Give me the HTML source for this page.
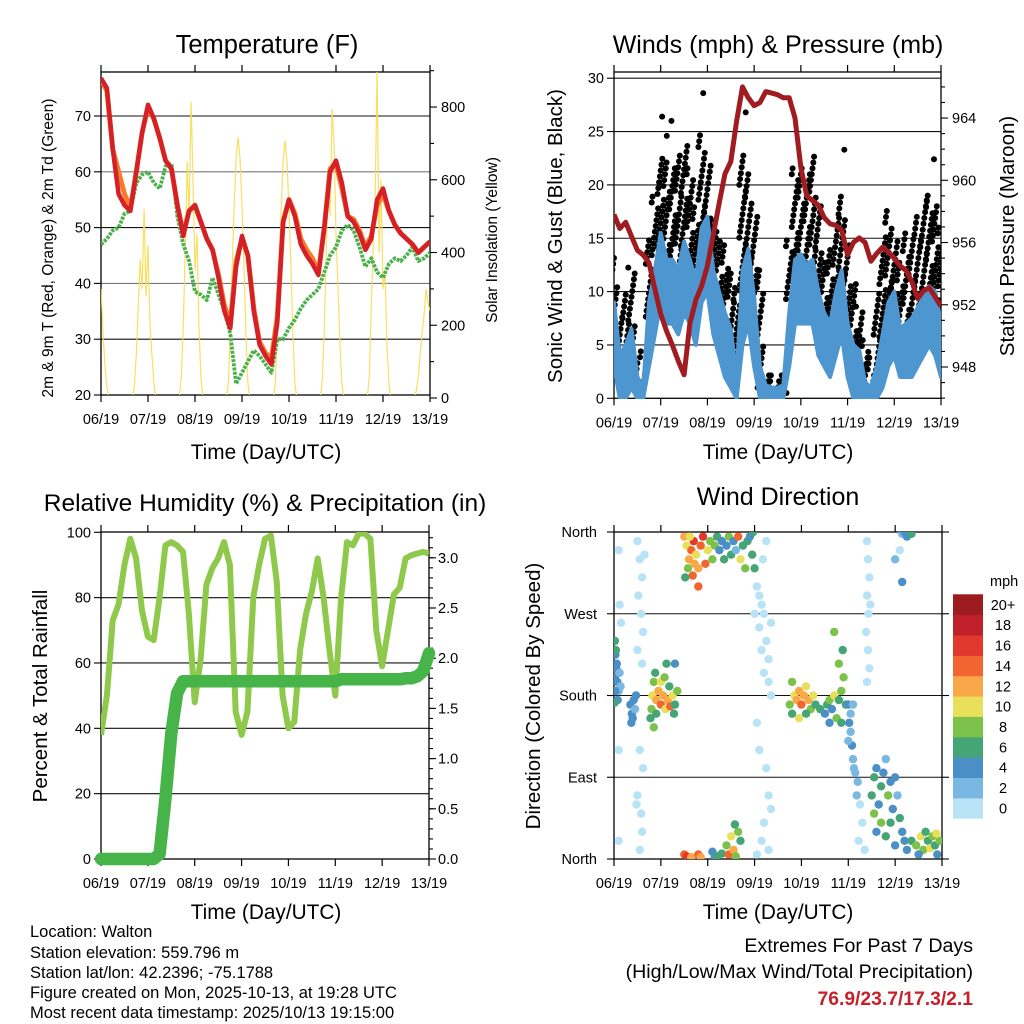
<!DOCTYPE html>
<html><head><meta charset="utf-8"><title>Walton station meteogram</title>
<style>
html,body{margin:0;padding:0;background:#fff;}
svg{display:block;font-family:"Liberation Sans",sans-serif;}
</style></head>
<body>
<svg id="fig" width="1024" height="1024" viewBox="0 0 1024 1024" xmlns="http://www.w3.org/2000/svg">
<defs>
<clipPath id="c1"><rect x="101" y="72" width="329" height="323"/></clipPath>
<clipPath id="c2"><rect x="614" y="72" width="327" height="327"/></clipPath>
<clipPath id="c3"><rect x="101" y="532" width="328" height="327"/></clipPath>
<clipPath id="c4"><rect x="614" y="532" width="328" height="327"/></clipPath>
</defs>
<rect width="1024" height="1024" fill="#fff"/>

<!-- titles -->
<text x="267" y="53" font-size="25.5" text-anchor="middle">Temperature (F)</text>
<text x="778" y="53" font-size="25" text-anchor="middle">Winds (mph) &amp; Pressure (mb)</text>
<text x="265" y="511" font-size="24.5" text-anchor="middle">Relative Humidity (%) &amp; Precipitation (in)</text>
<text x="778" y="505" font-size="25" text-anchor="middle">Wind Direction</text>

<!-- axis titles -->
<text x="266" y="459" font-size="20.8" text-anchor="middle">Time (Day/UTC)</text>
<text x="778" y="459" font-size="20.8" text-anchor="middle">Time (Day/UTC)</text>
<text x="266" y="919" font-size="20.8" text-anchor="middle">Time (Day/UTC)</text>
<text x="778" y="919" font-size="20.8" text-anchor="middle">Time (Day/UTC)</text>
<text transform="translate(53,248) rotate(-90)" font-size="15.5" text-anchor="middle">2m &amp; 9m T (Red, Orange) &amp; 2m Td (Green)</text>
<text transform="translate(497,240) rotate(-90)" font-size="15.5" text-anchor="middle">Solar Insolation (Yellow)</text>
<text transform="translate(562,236) rotate(-90)" font-size="20.5" text-anchor="middle">Sonic Wind &amp; Gust (Blue, Black)</text>
<text transform="translate(1014,236) rotate(-90)" font-size="20.5" text-anchor="middle">Station Pressure (Maroon)</text>
<text transform="translate(47,696) rotate(-90)" font-size="20.5" text-anchor="middle">Percent &amp; Total Rainfall</text>
<text transform="translate(540,696) rotate(-90)" font-size="20.5" text-anchor="middle">Direction (Colored By Speed)</text>

<g id="marks"></g>

<!-- colorbar -->
<g id="colorbar"></g>
<text x="990" y="586" font-size="14.5">mph</text>

<!-- info text -->
<g font-size="16.5">
<text x="30" y="937">Location: Walton</text>
<text x="30" y="958">Station elevation: 559.796 m</text>
<text x="30" y="978">Station lat/lon: 42.2396; -75.1788</text>
<text x="30" y="998">Figure created on Mon, 2025-10-13, at 19:28 UTC</text>
<text x="30" y="1018">Most recent data timestamp: 2025/10/13 19:15:00</text>
</g>
<g font-size="19.6" text-anchor="end">
<text x="973" y="952">Extremes For Past 7 Days</text>
<text x="973" y="978">(High/Low/Max Wind/Total Precipitation)</text>
<text x="973" y="1005" font-size="19.3" font-weight="bold" fill="#c8202a">76.9/23.7/17.3/2.1</text>
</g>
</svg>
<script>
// ---- shared ----
const dayLabels = ["06/19","07/19","08/19","09/19","10/19","11/19","12/19","13/19"];
// ---- temperature panel (3-hourly, 57 points) ----
const temp2m = [76.8,75,64,56,54,53,60,67,72,69.5,66,62,60.5,54,48.5,53,54,51,48,46,41,35,32,43,48.5,45,35,29,27,25.5,33,51,55,52,47,45,43.5,41.5,50,60,62,58,52,51,49,46,48,55,57,53,50.5,49,48,47,45.5,46.5,47.5];
const temp9m = [76.5,74.5,64,60,56,53.5,60,67,71.5,69.5,66,62,60.5,54,49,53,54,51,48,46,41.5,36,33,44,48,45,35.5,29.5,27.5,26.5,34,51,55,52.5,48,46,44.5,42,50,60.5,61.5,57,52,51.5,49.5,46.5,48.5,54,56,53,50.5,49,48,47,45.5,46.5,47.5];
const dewpoint = [47,48,49.5,50,52.5,53,58,59.5,60,58,57,61,61.5,52,47,44,38.5,38,37,41,38,35,31,22,24,26,28,27,25.5,24,30,30,32,33.5,35.5,37,38,39,42,45,46.5,49.5,50.5,49.5,46.5,43,44.5,42,41,43.5,44.5,44,45,46.5,44,44.5,45.5];
// hourly solar insolation (169 points)
const solar = [300,180,90,30,0,0,0,0,0,0,0,0,0,0,0,0,
 0,30,120,250,380,300,520,280,420,200,120,40,0,0,0,0,0,0,0,0,0,0,0,0,
 0,60,200,400,650,500,814,600,350,450,200,60,0,0,0,0,0,0,0,0,0,0,0,0,
 0,40,180,360,530,660,718,660,530,360,180,40,0,0,0,0,0,0,0,0,0,0,0,0,
 0,40,175,355,520,650,708,650,520,355,175,40,0,0,0,0,0,0,0,0,0,0,0,0,
 0,50,190,400,600,500,795,700,450,300,150,40,0,0,0,0,0,0,0,0,0,0,0,0,
 0,60,250,420,560,900,400,600,300,350,150,40,0,0,0,0,0,0,0,0,0,0,0,0,
 0,20,60,120,180,230,300,263,240];
const tempTicks = [20,30,40,50,60,70];
const solarTicks = [0,200,400,600,800];
// ---- wind panel (3-hourly) ----
const windHi = [9,4,5,6.5,2,1,9,12,15.5,13,13,12,14.7,13,11,16,17,12,10,8,6.5,2,12,14,9.5,3,1.2,1,1,1.2,8,13,13.5,12.5,13,10,8,7,10,12,7,5,4.5,1.5,1,3,6,9,10,6.5,7,7.5,8.5,9.5,10.5,10,7];
const windLo = [3,0,0,1,0,0,3,6,9,7,7,6,8,7,5,9,10,6,4,2,1,0,5,7,3,0,0,0,0,0,3,7,7,7,7,4,3,2,4,6,2,0,0,0,0,0,1,3,4,2,2,2,3,4,5,4,2];
const gustHi = [13.5,8,10,12.5,3.5,4.5,15,19,22.8,22.5,21.9,23,24,22,18,25,22,17,15,14.4,12,10.7,22.8,21,17,12,2.5,2.2,2.1,2.3,15,22,22,21,22.8,18,13,14,17,19.4,14.5,11,8.7,5.5,4,10,15.6,18,15,13,15.6,15,17,19,19.4,18,16.5];
const gustLo = [6,1,2,4,0,0,6,9,12,10,10,9,11,10,8,12,13,9,7,5,4,1,9,10,6,1,0.5,0.5,0.5,0.5,6,10,10,10,10,7,5,4,7,9,5,3,2,0.5,0.5,1,3,6,7,5,5,5,6,7,8,7,5];
const gustOutDay = [1.03,1.23,1.13,1.91,2.82,4.93,6.85];
const gustOutVal = [26.4,26,24.6,28.6,26.8,23.3,22.4];
const pressure = [957.8,956.9,957.3,956.4,955.5,955.2,954.7,953,951.4,950.3,949.4,948.4,947.5,950.8,952.3,953.2,954.5,956.5,958.5,960.4,961.2,963.8,966,965.3,964.8,965,965.7,965.6,965.5,965.3,965.3,964,960.8,959,958.7,958.4,957.6,957.2,957.1,956.8,955.2,956,956.3,956,954.8,955.3,955.7,955.4,955,954.5,954.2,953.5,952.4,952.9,953.1,952.5,951.9];
const windTicks = [0,5,10,15,20,25,30];
const pressTicks = [948,952,956,960,964];
// ---- humidity panel (3-hourly) ----
const rh = [38,50,73,78,90,98,92,76,68,67,80,96,97,96,94,75,48,61,84,89,92,97,90,45,38,45,80,90,98,99,85,50,40,42,64,75,82,92,80,64,50,80,97,96,99.6,99.6,98,70,59,70,81,83,92,93,93.5,94,93.5];
const precip = [0,0,0,0,0,0,0,0,0,0,0.05,0.6,1.25,1.65,1.77,1.77,1.77,1.77,1.77,1.77,1.77,1.77,1.77,1.77,1.77,1.77,1.77,1.77,1.77,1.77,1.77,1.77,1.77,1.77,1.77,1.77,1.77,1.77,1.77,1.77,1.77,1.79,1.79,1.79,1.79,1.79,1.79,1.79,1.79,1.79,1.79,1.79,1.8,1.8,1.82,1.87,2.05];
const rhTicks = [0,20,40,60,80,100];
const precipTicks = ["0.0","0.5","1.0","1.5","2.0","2.5","3.0"];
// ---- wind direction panel ----
const dirDay = [0.02,0.03,0.05,0.02,0.07,0.1,0.04,0.06,0.12,0.08,0.01,0.14,0.03,
0.5,0.55,0.6,0.52,0.58,0.62,0.5,0.6,0.55,0.62,0.5,0.58,0.6,0.55,0.48,0.65,0.1,0.12,0.15,0.1,0.1,
0.35,0.38,0.42,0.45,0.4,0.47,0.37,
0.78,0.8,0.82,0.85,0.88,0.9,0.95,1.0,1.05,1.1,1.15,1.2,1.25,1.3,1.35,0.9,1.0,1.08,1.18,1.28,0.85,1.12,1.3,
1.5,1.55,1.6,1.65,1.7,1.75,1.8,1.85,1.9,1.95,2.0,2.05,2.1,1.58,1.68,1.72,1.62,2.15,2.2,2.25,2.3,2.35,2.4,2.45,2.5,2.55,2.6,2.65,2.7,2.75,2.8,2.85,2.9,2.95,3.0,2.97,1.52,1.8,
3.05,3.1,3.15,3.2,3.1,3.25,3.15,3.3,3.2,3.3,3.18,3.25,3.0,3.35,3.35,3.05,3.1,3.25,3.3,3.35,3.2,3.15,3.3,3.05,
1.5,1.55,1.65,1.8,1.85,2.1,2.15,2.3,2.4,2.45,2.5,2.55,2.6,2.7,2.65,2.58,2.2,
3.75,3.8,3.85,3.9,3.95,4.0,4.05,4.1,4.15,4.2,4.25,4.3,3.8,3.95,4.1,
4.4,4.5,4.55,4.6,4.65,4.7,4.75,4.8,4.85,4.9,4.88,4.85,4.8,4.95,4.6,4.7,
5.0,5.02,5.05,5.08,5.1,5.12,5.15,5.2,5.0,5.05,5.18,5.25,5.3,5.22,5.35,5.1,
5.4,5.42,5.45,5.4,5.43,5.38,5.42,5.45,5.4,5.47,
5.5,5.55,5.6,5.65,5.7,5.75,5.8,5.85,5.9,5.95,6.0,6.05,6.1,6.15,6.2,5.6,5.7,5.8,5.9,6.0,5.55,6.25,
6.35,6.45,6.55,6.6,6.7,6.75,6.8,6.85,6.9,6.95,6.5,6.65,6.88,
6.15,6.2,6.25,6.35,6.0,6.15,6.1];
const dirDeg = [240,225,210,200,195,185,230,215,205,175,172,190,185,
350,330,310,290,270,250,230,215,120,100,70,50,30,10,60,335,340,280,260,120,20,
170,160,175,165,155,180,150,
155,165,180,195,205,175,185,170,180,165,175,168,180,170,185,160,195,200,190,160,145,215,215,
355,345,330,340,350,335,320,345,355,325,340,350,330,320,312,325,355,345,355,340,350,330,345,355,335,350,340,355,330,345,320,350,355,335,320,360,310,300,
300,290,280,270,255,240,230,220,205,195,330,350,270,260,180,150,120,100,70,55,40,20,10,5,
5,3,2,5,2,8,2,6,15,5,25,10,3,20,30,38,3,
170,160,180,175,185,170,180,190,175,165,180,170,195,155,160,
165,160,170,175,165,180,155,175,185,200,230,150,215,170,150,250,
170,150,140,125,110,100,95,85,130,160,70,60,40,20,10,170,
350,330,310,290,270,250,230,210,195,280,
70,50,30,60,80,95,110,70,40,55,90,70,45,30,20,100,40,25,85,15,90,10,
20,15,25,10,20,12,25,15,5,20,5,30,28,
358,360,355,358,330,305,340];
const dirSpd = [6,5,4,5,4,3,6,4,3,4,6,2,5,
0,0,1,0,1,0,0,1,0,0,1,0,0,0,0,0,0,0,0,0,0,
4,4,4,3,5,4,4,
6,8,10,8,6,12,12,14,12,10,12,14,10,6,8,7,10,8,6,6,8,6,4,
12,10,12,14,16,10,12,14,16,14,10,8,8,8,14,12,10,8,6,4,4,6,4,8,6,4,2,14,10,6,8,6,4,6,6,6,6,14,
0,0,0,0,0,0,0,0,0,0,0,0,0,1,1,0,0,0,0,0,0,0,0,0,
14,16,12,14,12,4,4,6,8,14,10,12,8,6,8,6,6,
8,6,10,12,12,14,12,10,12,8,10,6,8,10,6,
6,4,6,8,4,10,8,6,8,8,6,6,8,6,4,8,
4,4,3,4,3,2,2,2,2,3,2,1,1,1,1,3,
0,0,0,1,0,0,0,1,0,1,
6,8,4,4,6,4,2,8,6,4,4,2,6,4,4,4,8,6,4,4,6,4,
6,8,10,8,6,10,8,6,4,8,4,6,10,
2,4,4,6,2,4,0];
const dirLabels = ["North","East","South","West","North"];
const cbLabels = ["0","2","4","6","8","10","12","14","16","18","20+"];
const cbColors = ["#b8e3f7","#7ab8e2","#4a8fc6","#45a574","#7cc24a","#e8e05a","#f9a848","#f26530","#e0382c","#c0202a","#9b1b1e"];

// ---- axis functions ----
const NS = "http://www.w3.org/2000/svg";
const marks = document.getElementById("marks");
function mk(tag, attrs, parent){ const e=document.createElementNS(NS,tag); for(const k in attrs) e.setAttribute(k,attrs[k]); (parent||marks).appendChild(e); return e; }
const P1={x0:101,x1:430,y0:72,y1:395}, P2={x0:614,x1:941,y0:72,y1:398.3}, P3={x0:101,x1:429,y0:532,y1:859}, P4={x0:614,x1:942,y0:532,y1:859};
const x1i = i => P1.x0 + i*(P1.x1-P1.x0)/56;
const x1h = h => P1.x0 + h*(P1.x1-P1.x0)/168;
const yT = v => 395 - (v-20)*5.58;
const yS = s => 398 - s*0.3637;
const x2i = i => P2.x0 + i*(P2.x1-P2.x0)/56;
const x2d = d => P2.x0 + d*(P2.x1-P2.x0)/7;
const yW = v => 398.3 - v*10.67;
const yP = p => 367 - (p-948)*15.56;
const x3i = i => P3.x0 + i*(P3.x1-P3.x0)/56;
const yRH = v => 859 - v*3.267;
const yPr = p => 859 - p*100.4;
const x4d = d => P4.x0 + d*(P4.x1-P4.x0)/7;
const yD = d => 859 - d*0.9083;
function spdColor(s){ let k=Math.floor(s/2); if(k>10)k=10; if(k<0)k=0; return cbColors[k]; }
function pathFrom(arr, fx, fy){ return arr.map((v,i)=>(i?"L":"M")+fx(i).toFixed(1)+","+fy(v).toFixed(1)).join(""); }

function frame(P, name){
  const g=mk("g",{});
  
  
  for(let d=0; d<8; d++){
    const x=P.x0+d*(P.x1-P.x0)/7;
    mk("line",{x1:x,x2:x,y1:P.y1,y2:P.y1+7,stroke:"#000","stroke-width":1.2},g);
    mk("line",{x1:x,x2:x,y1:P.y0,y2:P.y0-7,stroke:"#000","stroke-width":1.2},g);
    const t=mk("text",{x:x,y:P.y1+29,"font-size":14.5,"text-anchor":"middle"},g);
    
    
    t.textContent=dayLabels[d];
  }
  return g;
}
function hgrid(g, y, P, gray){ mk("line",{x1:P.x0,x2:P.x1,y1:y,y2:y,stroke:gray?"#777":"#111","stroke-width":1.1},g); }
function ylab(g, x, y, txt, anchor, name){
  const t=mk("text",{x:x,y:y+5,"font-size":14.5,"text-anchor":anchor},g);
  
  
  t.textContent=txt;
}
function tick(g,x,y,len){ mk("line",{x1:x,x2:x+len,y1:y,y2:y,stroke:"#000","stroke-width":1.1},g); }

// ===== Panel 1: temperature =====
(function(){
  const g=frame(P1,"temperature");
  tempTicks.forEach((v,k)=>{ const y=yT(v); if(k>0) hgrid(g,y,P1,k%2==0); tick(g,P1.x0,y,-7); ylab(g,P1.x0-10,y,String(v),"end","temperature-y-tick-label"); });
  solarTicks.forEach(v=>{ const y=yS(v); tick(g,P1.x1,y,7); ylab(g,P1.x1+11,y,String(v),"start","solar-y-tick-label"); });
  for(let v=100; v<=900; v+=200){ tick(g,P1.x1,yS(v),4); }
  const c=mk("g",{"clip-path":"url(#c1)"});
  const sol=mk("path",{d:pathFrom(solar,x1h,yS),fill:"none",stroke:"#f7dc4f","stroke-width":1.2,opacity:0.9},c);
  
  
  const dp=mk("path",{d:pathFrom(dewpoint,x1i,yT),fill:"none",stroke:"#4bb04a","stroke-width":3.8,"stroke-dasharray":"3 1.2","stroke-linejoin":"round"},c);
  
  
  const t9=mk("path",{d:pathFrom(temp9m,x1i,yT),fill:"none",stroke:"#f47c2c","stroke-width":5,"stroke-linejoin":"round"},c);
  
  
  const t2=mk("path",{d:pathFrom(temp2m,x1i,yT),fill:"none",stroke:"#d42026","stroke-width":4.5,"stroke-linejoin":"round"},c);
  
  
  mk("rect",{x:P1.x0,y:P1.y0,width:P1.x1-P1.x0,height:P1.y1-P1.y0,fill:"none",stroke:"#000","stroke-width":1.3},g);
})();

// ===== Panel 2: winds & pressure =====
(function(){
  const g=frame(P2,"winds");
  windTicks.forEach((v,k)=>{ const y=yW(v); if(k>0) hgrid(g,y,P2,false); tick(g,P2.x0,y,-7); ylab(g,P2.x0-10,y,String(v),"end","wind-y-tick-label"); });
  pressTicks.forEach(v=>{ const y=yP(v); tick(g,P2.x1,y,7); ylab(g,P2.x1+11,y,String(v),"start","pressure-y-tick-label"); });
  for(let v=946; v<=966; v+=1){ if(v%4) tick(g,P2.x1,yP(v),4); }
  const c=mk("g",{"clip-path":"url(#c2)"});
  gustHi.forEach((hi,i)=>{
    const lo=gustLo[i]; let k=0;
    for(let v=lo; v<=hi+0.01; v+=0.55){
      const off=((k*37+i*13)%9-4)*0.8;
      const d=mk("circle",{cx:(x2i(i)+off).toFixed(1),cy:yW(v).toFixed(1),r:3,fill:"#000"},c);
      
      
      k++;
    }
  });
  gustOutDay.forEach((d,j)=>{
    const p=mk("circle",{cx:x2d(d),cy:yW(gustOutVal[j]),r:3,fill:"#000"},c);
    
    
  });
  let dp=pathFrom(windHi,x2i,yW);
  for(let i=windLo.length-1;i>=0;i--) dp+="L"+x2i(i).toFixed(1)+","+yW(windLo[i]).toFixed(1);
  const band=mk("path",{d:dp+"Z",fill:"#4d96d0",stroke:"#4d96d0","stroke-width":4,"stroke-linejoin":"round"},c);
  
  
  const pr=mk("path",{d:pathFrom(pressure,x2i,yP),fill:"none",stroke:"#a01c20","stroke-width":5,"stroke-linejoin":"round"},c);
  
  
  mk("rect",{x:P2.x0,y:P2.y0,width:P2.x1-P2.x0,height:P2.y1-P2.y0,fill:"none",stroke:"#000","stroke-width":1.3},g);
})();

// ===== Panel 3: humidity & precip =====
(function(){
  const g=frame(P3,"humidity");
  rhTicks.forEach((v,k)=>{ const y=yRH(v); if(k>0&&k<5) hgrid(g,y,P3,false); tick(g,P3.x0,y,-7); ylab(g,P3.x0-10,y,String(v),"end","humidity-y-tick-label"); });
  precipTicks.forEach(s=>{ const y=yPr(parseFloat(s)); tick(g,P3.x1,y,7); ylab(g,P3.x1+9,y,s,"start","precip-y-tick-label"); });
  for(let v=0.1; v<3.25; v+=0.1){ tick(g,P3.x1,yPr(v),4); }
  const c=mk("g",{"clip-path":"url(#c3)"});
  const r=mk("path",{d:pathFrom(rh,x3i,yRH),fill:"none",stroke:"#8fc94c","stroke-width":6,"stroke-linejoin":"round"},c);
  
  
  const p=mk("path",{d:pathFrom(precip,x3i,yPr),fill:"none",stroke:"#47b449","stroke-width":12.5,"stroke-linejoin":"round","stroke-linecap":"round"},marks);
  
  
  mk("rect",{x:P3.x0,y:P3.y0,width:P3.x1-P3.x0,height:P3.y1-P3.y0,fill:"none",stroke:"#000","stroke-width":1.3},g);
})();

// ===== Panel 4: wind direction =====
(function(){
  const g=frame(P4,"direction");
  dirLabels.forEach((s,k)=>{ const y=yD(k*90); if(k>0&&k<4) hgrid(g,y,P4,false); tick(g,P4.x0,y,-7); tick(g,P4.x1,y,7); ylab(g,P4.x0-17,y,s,"end","direction-y-tick-label"); });
  const c=mk("g",{"clip-path":"url(#c4)"});
  dirDay.forEach((d,i)=>{
    const p=mk("circle",{cx:x4d(d).toFixed(1),cy:yD(dirDeg[i]).toFixed(1),r:4.2,fill:spdColor(dirSpd[i])},c);
    
    
  });
  mk("rect",{x:P4.x0,y:P4.y0,width:P4.x1-P4.x0,height:P4.y1-P4.y0,fill:"none",stroke:"#000","stroke-width":1.3},g);
  const cb=document.getElementById("colorbar");
  cbColors.forEach((col,k)=>{
    const y=818.3-(k+1)*20.36;
    const r=mk("rect",{x:953,y:y.toFixed(1),width:30,height:20.8,fill:col},cb);
    
    
    const t=mk("text",{x:1003,y:(y+15.5).toFixed(1),"font-size":14.5,"text-anchor":"middle"},cb);
    
    
    t.textContent=cbLabels[k];
  });
})();
</script>
</body></html>
